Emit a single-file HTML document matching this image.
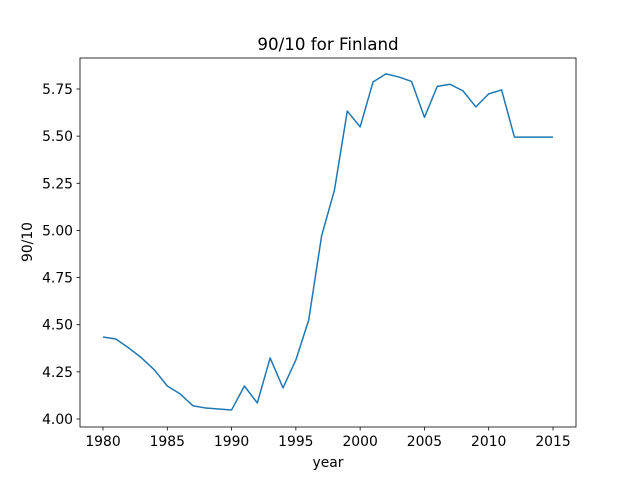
<!DOCTYPE html>
<html><head><meta charset="utf-8"><style>body{margin:0;background:#fff}svg{display:block;font-family:"DejaVu Sans","Liberation Sans",sans-serif}</style></head>
<body>
<svg id="chart" width="640" height="480" xmlns="http://www.w3.org/2000/svg"></svg>
<script>
const years=[1980,1981,1982,1983,1984,1985,1986,1987,1988,1989,1990,1991,1992,1993,1994,1995,1996,1997,1998,1999,2000,2001,2002,2003,2004,2005,2006,2007,2008,2009,2010,2011,2012,2013,2014,2015];
const ratios=[4.435,4.424,4.377,4.324,4.26,4.175,4.133,4.07,4.058,4.053,4.048,4.175,4.085,4.324,4.165,4.313,4.525,4.97,5.214,5.633,5.549,5.787,5.83,5.814,5.79,5.6,5.764,5.775,5.74,5.655,5.724,5.745,5.495,5.495,5.495,5.495];
const xTicks=[1980,1985,1990,1995,2000,2005,2010,2015];
const yTicks=[4.00,4.25,4.50,4.75,5.00,5.25,5.50,5.75];
const svg=document.getElementById('chart');const NS='http://www.w3.org/2000/svg';
const L=80,R=576,T=58,B=427;
const xs=v=>103+(v-1980)*450/35;
const ys=v=>419-(v-4)*330/1.75;
function mk(t,a,p){const e=document.createElementNS(NS,t);for(const k in a)e.setAttribute(k,a[k]);(p||svg).appendChild(e);return e;}
const title=mk('text',{x:328,y:50,'text-anchor':'middle','font-size':16.7,fill:'#000'});title.textContent='90/10 for Finland';


let d='';years.forEach((y,i)=>{d+=(i?'L':'M')+xs(y).toFixed(2)+' '+ys(ratios[i]).toFixed(2);});
const line=mk('path',{d:d,fill:'none',stroke:'#1f77b4','stroke-width':1.5,'stroke-linejoin':'round'});


const frame=mk('rect',{x:L,y:T,width:R-L,height:B-T,fill:'none',stroke:'#000','stroke-width':0.8});


xTicks.forEach(t=>{const x=xs(t);
const tk=mk('line',{x1:x,x2:x,y1:B,y2:B+3.5,stroke:'#000','stroke-width':0.8});


const lb=mk('text',{x:x,y:B+19,'text-anchor':'middle','font-size':13.9,fill:'#000'});lb.textContent=t;

});
yTicks.forEach(t=>{const y=ys(t);
const tk=mk('line',{x1:L-3.5,x2:L,y1:y,y2:y,stroke:'#000','stroke-width':0.8});


const lb=mk('text',{x:L-7,y:y+5,'text-anchor':'end','font-size':13.9,fill:'#000'});lb.textContent=t.toFixed(2);

});
const xl=mk('text',{x:328,y:467,'text-anchor':'middle','font-size':13.9,fill:'#000'});xl.textContent='year';


const yl=mk('text',{x:32,y:242,'text-anchor':'middle','font-size':13.9,fill:'#000',transform:'rotate(-90 32 242)'});yl.textContent='90/10';


</script>
</body></html>
